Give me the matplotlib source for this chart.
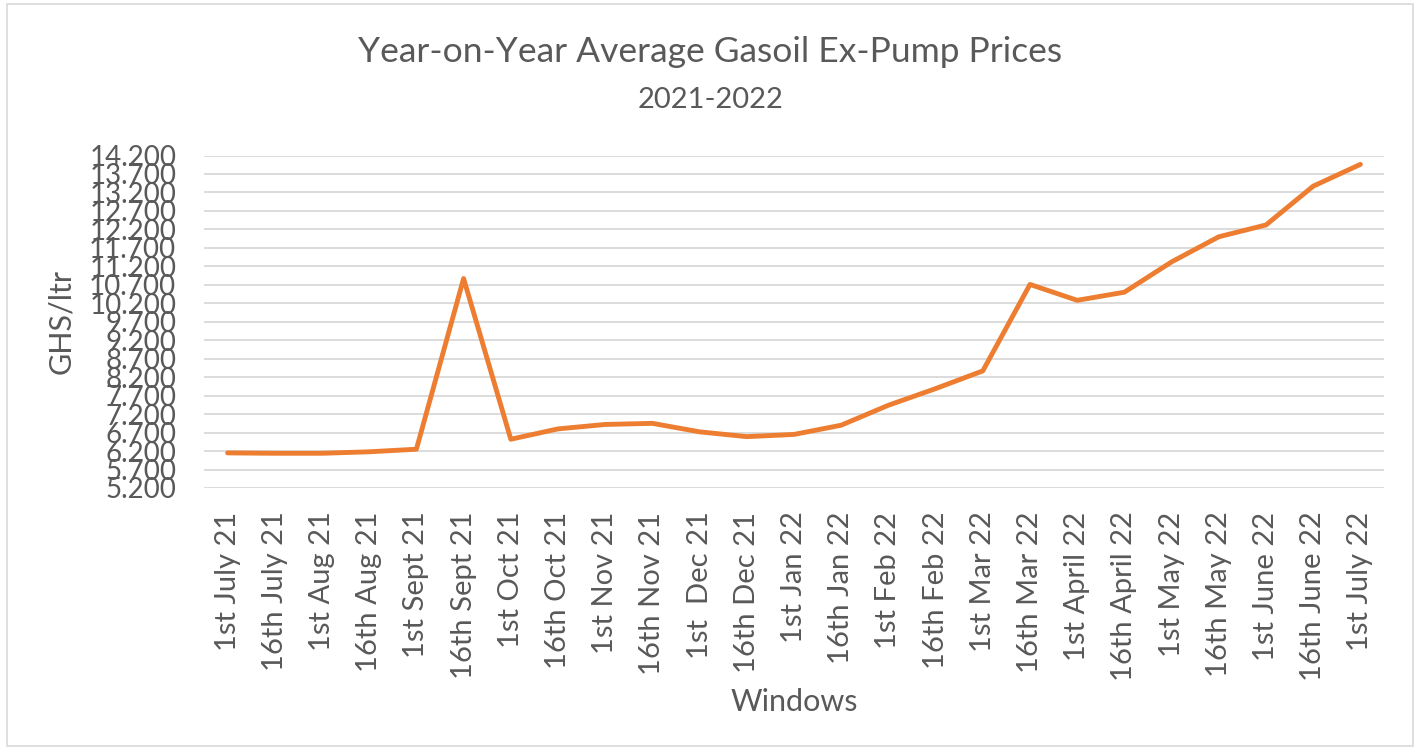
import numpy as np
import matplotlib.pyplot as plt
from matplotlib.patches import Rectangle

# data
windows = [
    "1st July 21", "16th July 21", "1st Aug 21", "16th Aug 21", "1st Sept 21",
    "16th Sept 21", "1st Oct 21", "16th Oct 21", "1st Nov 21", "16th Nov 21",
    "1st  Dec 21", "16th Dec 21", "1st Jan 22", "16th Jan 22", "1st Feb 22",
    "16th Feb 22", "1st Mar 22", "16th Mar 22", "1st April 22", "16th April 22",
    "1st May 22", "16th May 22", "1st June 22", "16th June 22", "1st July 22",
]
prices = [
    6.15, 6.14, 6.14, 6.18, 6.25,
    10.87, 6.52, 6.80, 6.92, 6.95,
    6.72, 6.59, 6.65, 6.90, 7.44,
    7.89, 8.37, 10.71, 10.28, 10.50,
    11.32, 12.00, 12.32, 13.37, 13.96,
]
y_ticks = np.arange(5.2, 14.21, 0.5)

plt.rcParams["font.family"] = ["Lato", "DejaVu Sans"]
text_col = "#595959"

fig = plt.figure(figsize=(14.21, 7.5), dpi=100)
ax = fig.add_axes([204 / 1421, 262 / 750, 1180 / 1421, 332.5 / 750])

x = np.arange(len(windows))
ax.plot(x, prices, color="#ED7D31", linewidth=3.5, solid_capstyle="round",
        solid_joinstyle="round", zorder=3)

ax.set_xlim(-0.5, len(windows) - 0.5)
ax.set_ylim(5.2, 14.2)
ax.set_yticks(y_ticks)
ax.set_yticklabels(["%.3f" % v for v in y_ticks])
ax.set_xticks(x)
ax.set_xticklabels(windows, rotation=90)

ax.grid(axis="y", color="#D9D9D9", linewidth=1.3)
ax.set_axisbelow(True)
for s in ax.spines.values():
    s.set_visible(False)
ax.tick_params(length=0, labelcolor=text_col)
ax.tick_params(axis="y", pad=20, labelsize=20)
ax.tick_params(axis="x", pad=17, labelsize=21)

ax.set_ylabel("GHS/ltr", fontsize=22, color=text_col, va="center")
ax.yaxis.set_label_coords(-0.121, 0.5)
ax.set_xlabel("Windows", fontsize=22, color=text_col, va="center")
ax.xaxis.set_label_coords(0.5, -0.645)

fig.text(0.5, 1 - 52 / 750, "Year-on-Year Average Gasoil Ex-Pump Prices",
         ha="center", va="center", fontsize=25.5, color=text_col)
fig.text(0.5, 1 - 100 / 750, "2021-2022", ha="center", va="center",
         fontsize=21, color=text_col)

fig.patches.append(Rectangle((7 / 1421, 4 / 750), 1406 / 1421, 742 / 750,
                             transform=fig.transFigure, fill=False,
                             edgecolor="#D9D9D9", linewidth=1.2))

plt.savefig("out.png", dpi=100)
